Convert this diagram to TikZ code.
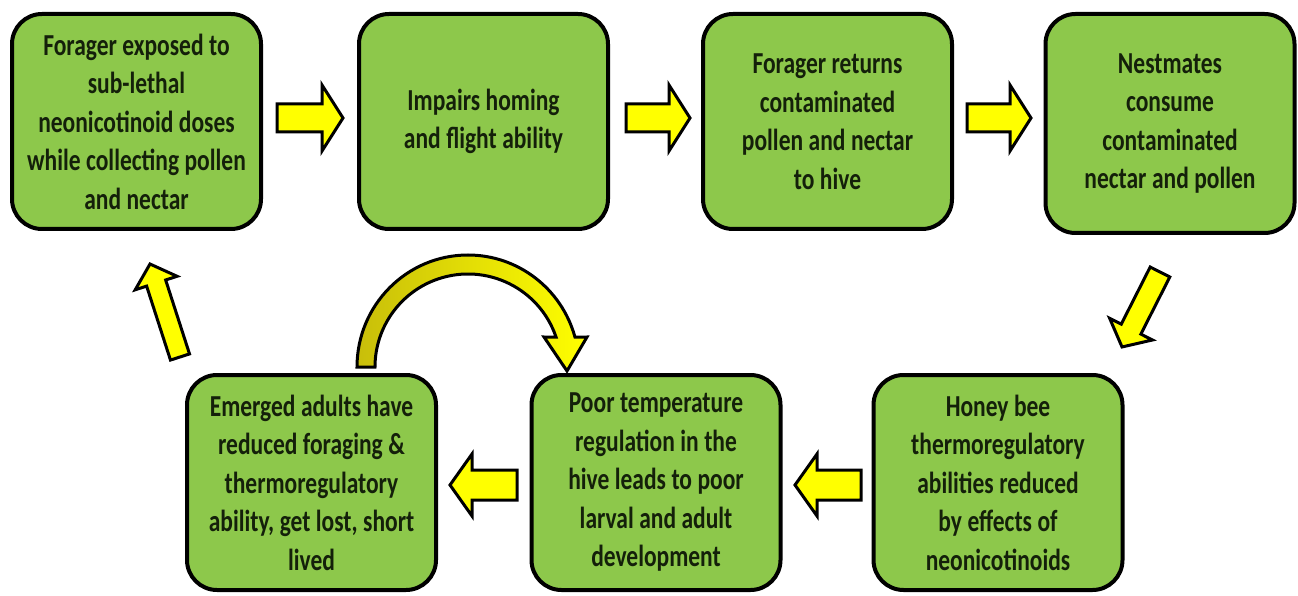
\documentclass[tikz,border=0pt]{standalone}
\usepackage{fontspec}
\newfontfamily\boxfont{Carlito}[FakeStretch=0.77]
\usetikzlibrary{calc}
\definecolor{boxgreen}{RGB}{141,200,75}
\definecolor{boxtext}{RGB}{20,32,10}
\definecolor{arrowyellow}{RGB}{255,255,0}
\definecolor{curveshade}{RGB}{200,190,10}
\tikzset{
  stepbox/.style={draw=black, line width=4pt, fill=boxgreen, rounded corners=30pt,
    minimum width=249pt, minimum height=215pt, text width=244pt, align=center,
    font={\boxfont\bfseries\fontsize{30.5pt}{38.5pt}\selectfont}, text=boxtext, inner sep=0pt,
    execute at begin node={\spaceskip=5.5pt\relax}},
  blockarrow/.style={draw=black, line width=3pt, fill=arrowyellow, line join=miter},
  curvearrow/.style={draw=black, line width=3pt, left color=curveshade, right color=arrowyellow, line join=miter}
}
\newcommand\barrow[5]{%
  \path let \p1=($(#2)-(#1)$) in \pgfextra{%
    \pgfmathsetmacro\barang{atan2(\y1,\x1)}%
    \pgfmathsetmacro\barlen{veclen(\x1,\y1)}%
    \xdef\barang{\barang}\xdef\barlen{\barlen}};
  \filldraw[blockarrow, shift={(#1)}, rotate=\barang]
    (0,-#3) -- ({\barlen-#5},-#3) -- ({\barlen-#5},-#4) -- (\barlen,0)
    -- ({\barlen-#5},#4) -- ({\barlen-#5},#3) -- (0,#3) -- cycle;}
\begin{document}
\begin{tikzpicture}[x=1pt,y=1pt]
\useasboundingbox (0,0) rectangle (1298,595);
\fill[white] (0,0) rectangle (1298,595);
% top row
\node[stepbox] (b1) at (136.5,473.5) {Forager exposed to\\sub-lethal\\neonicotinoid doses\\while collecting pollen\\and nectar};
\node[stepbox] (b2) at (483.5,473.5) {Impairs homing\\and flight ability};
\node[stepbox] (b3) at (827.5,473.5) {Forager returns\\contaminated\\pollen and nectar\\to hive};
\node[stepbox, minimum height=219pt] (b4) at (1170,471.5) {Nestmates\\consume\\contaminated\\nectar and pollen};
% bottom row
\node[stepbox] (b5) at (311.5,112.5) {Emerged adults have\\reduced foraging \&\\thermoregulatory\\ability, get lost, short\\lived};
\node[stepbox] (b6) at (656,112.5) {Poor temperature\\regulation in the\\hive leads to poor\\larval and adult\\development};
\node[stepbox] (b7) at (998,112.5) {Honey bee\\thermoregulatory\\abilities reduced\\by effects of\\neonicotinoids};
% arrow end points
\coordinate (a1s) at (277,477); \coordinate (a1e) at (343,477);
\coordinate (a2s) at (626,477); \coordinate (a2e) at (690,477);
\coordinate (a3s) at (967,477); \coordinate (a3e) at (1031,477);
\coordinate (a4s) at (1160,323); \coordinate (a4e) at (1122,248);
\coordinate (a5s) at (861,110); \coordinate (a5e) at (795,110);
\coordinate (a6s) at (517,110); \coordinate (a6e) at (450,110);
\coordinate (a7s) at (180,238); \coordinate (a7e) at (150,331);
\barrow{a1s}{a1e}{14}{33}{21}
\barrow{a2s}{a2e}{14}{33}{21}
\barrow{a3s}{a3e}{14}{33}{21}
\barrow{a4s}{a4e}{11}{24}{20}
\barrow{a5s}{a5e}{15}{31}{22}
\barrow{a6s}{a6e}{15}{31}{22}
\barrow{a7s}{a7e}{10}{22}{20}
% curved arrow
\coordinate (cc) at (468,228);
\filldraw[curvearrow] ($(cc)+(-111,0)$) arc[start angle=180, end angle=15.5, x radius=111, y radius=112]
  -- (587,258) -- (567,224) -- (544,258)
  -- ($(cc)+(18.8:93)$) arc[start angle=18.8, end angle=180, radius=93] -- cycle;
\end{tikzpicture}
\end{document}
